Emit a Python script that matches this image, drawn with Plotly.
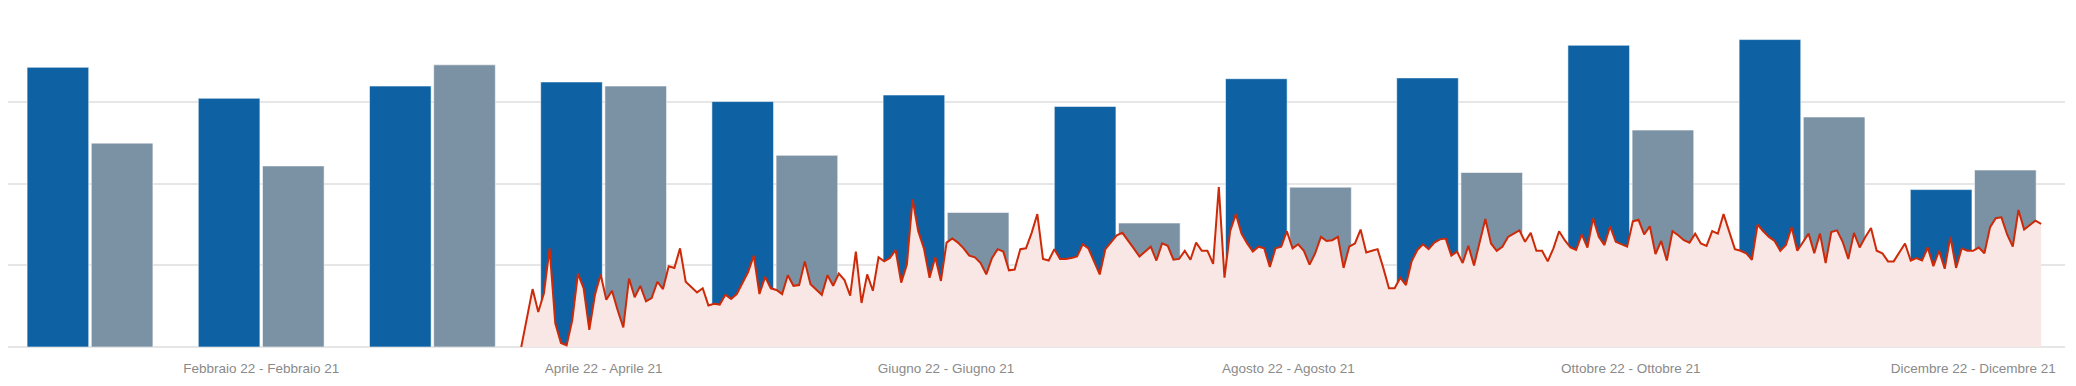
import pandas as pd
import plotly.graph_objects as go

# ---- data -------------------------------------------------------------
MONTHS = ["Gennaio", "Febbraio", "Marzo", "Aprile", "Maggio", "Giugno",
          "Luglio", "Agosto", "Settembre", "Ottobre", "Novembre", "Dicembre"]

# monthly totals (bars)
VALUES_2022 = [3430, 3050, 3200, 3250, 3010, 3090, 2950, 3290, 3300, 3700, 3770, 1930]
VALUES_2021 = [2500, 2220, 3460, 3200, 2350, 1650, 1520, 1960, 2140, 2660, 2820, 2170]

# daily values (red area), from 1 April 2022
DAILY_START = "2022-04-01"
DAILY_APR = [0, 36, 71, 43, 66, 121, 29, 5, 2, 33, 90, 72, 21, 64, 89, 58, 69, 45, 24, 84,
             61, 75, 56, 60, 80, 71, 99, 97, 121, 80]
DAILY_MAY = [73, 67, 72, 51, 53, 52, 64, 59, 65, 78, 92, 112, 65, 86, 72, 70, 65, 88, 75, 76,
             105, 77, 70, 64, 88, 75, 90, 82, 63, 117, 54]
DAILY_JUN = [89, 69, 110, 105, 109, 119, 79, 101, 181, 142, 121, 85, 110, 81, 128, 133, 128, 121, 112, 110,
             103, 89, 109, 120, 117, 94, 95, 120, 121, 140]
DAILY_JUL = [163, 108, 106, 120, 108, 108, 109, 111, 126, 121, 106, 89, 120, 129, 137, 140, 131, 121, 111, 117,
             123, 106, 127, 124, 107, 108, 118, 107, 128, 118, 118]
DAILY_AUG = [102, 196, 85, 142, 163, 139, 127, 117, 123, 121, 98, 121, 123, 142, 121, 126, 118, 101, 115, 135,
             130, 131, 135, 97, 123, 127, 144, 116, 118, 120, 97]
DAILY_SEP = [72, 72, 85, 76, 105, 119, 126, 120, 128, 132, 133, 112, 117, 103, 124, 100, 130, 157, 127, 118,
             123, 135, 139, 143, 129, 140, 118, 118, 105, 121]
DAILY_OCT = [142, 131, 122, 119, 138, 122, 158, 135, 125, 148, 129, 126, 123, 154, 156, 138, 148, 114, 130, 106,
             142, 137, 131, 128, 139, 127, 124, 142, 139, 163, 142]
DAILY_NOV = [120, 118, 115, 107, 150, 142, 135, 130, 118, 125, 147, 118, 129, 139, 115, 139, 103, 141, 143, 129,
             108, 140, 122, 135, 146, 118, 115, 105, 105, 116]
DAILY_DEC = [127, 106, 109, 106, 122, 99, 118, 96, 135, 97, 121, 118, 118, 122, 115, 147, 158, 159, 138, 123,
             168, 144, 150, 155, 151]

DAILY = (DAILY_APR + DAILY_MAY + DAILY_JUN + DAILY_JUL + DAILY_AUG + DAILY_SEP
         + DAILY_OCT + DAILY_NOV + DAILY_DEC)
DAILY_DATES = pd.date_range(DAILY_START, periods=len(DAILY), freq="D")

TICK_MONTHS = MONTHS[1::2]
TICK_TEXT = [f"{m} 22 - {m} 21" for m in TICK_MONTHS]

# ---- styles -----------------------------------------------------------
BLUE = "#0e62a4"
GRAY = "#7b91a4"
RED = "#cc2a08"
PINK = "#f9e7e5"
GRID = "#e6e6e6"
FONT = "Liberation Sans, Arial, sans-serif"

fig = go.Figure()
fig.add_trace(go.Bar(x=MONTHS, y=VALUES_2022, name="2022",
                     marker=dict(color=BLUE, line=dict(color="rgba(255,255,255,0.55)", width=1))))
fig.add_trace(go.Bar(x=MONTHS, y=VALUES_2021, name="2021",
                     marker=dict(color=GRAY, line=dict(color="rgba(255,255,255,0.55)", width=1))))
fig.add_trace(go.Scatter(x=DAILY_DATES, y=DAILY, xaxis="x2", yaxis="y2", mode="lines",
                         line=dict(color=RED, width=2), fill="tozeroy", fillcolor=PINK,
                         name="giornaliero"))

fig.update_layout(
    width=2060, height=370,
    margin=dict(l=0, r=3, t=12, b=31),
    paper_bgcolor="white", plot_bgcolor="white",
    showlegend=False,
    barmode="group", bargap=0.25, bargroupgap=0.04,
    font=dict(family=FONT),
    xaxis=dict(type="category", categoryorder="array", categoryarray=MONTHS,
               range=[-0.479, 11.536], showgrid=False, zeroline=False, showline=False,
               tickmode="array", tickvals=TICK_MONTHS, ticktext=TICK_TEXT,
               ticks="", ticklabelstandoff=11,
               tickfont=dict(size=13.5, color="#8a8a8a", family=FONT),
               automargin=False),
    yaxis=dict(range=[0, 4010], dtick=1000, showgrid=True, gridcolor=GRID, gridwidth=2,
               zeroline=True, zerolinecolor=GRID, zerolinewidth=2,
               showticklabels=False, ticks="", automargin=False),
    xaxis2=dict(type="date", overlaying="x", range=["2021-12-31 12:00", "2022-12-29 05:00"],
                visible=False, showgrid=False),
    yaxis2=dict(overlaying="y", range=[0, 401], visible=False, showgrid=False),
)

fig.write_html("out.html")
